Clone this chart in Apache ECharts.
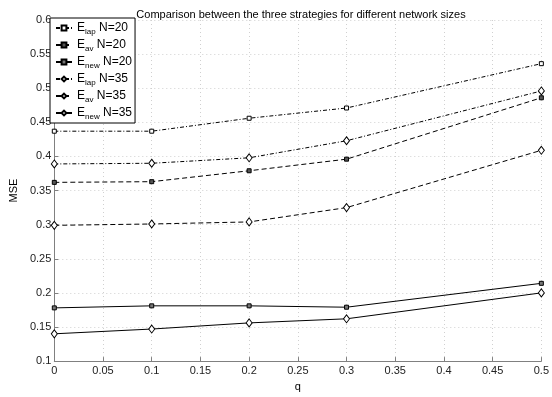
<!DOCTYPE html>
<html>
<head>
<meta charset="utf-8">
<script src="https://cdn.jsdelivr.net/npm/echarts@6/dist/echarts.min.js"></script>
<style>html,body{margin:0;padding:0;background:#fff;}#c{width:552px;height:397px;}</style>
</head>
<body>
<div id="c"></div>
<script>
// Data
const q = [0, 0.1, 0.2, 0.3, 0.5];
const elap20 = [0.437, 0.437, 0.456, 0.471, 0.536];
const eav20  = [0.362, 0.363, 0.379, 0.396, 0.486];
const enew20 = [0.178, 0.181, 0.181, 0.179, 0.214];
const elap35 = [0.389, 0.390, 0.398, 0.423, 0.496];
const eav35  = [0.299, 0.301, 0.304, 0.325, 0.409];
const enew35 = [0.140, 0.147, 0.156, 0.162, 0.200];
const seriesNames = ['Elap N=20', 'Eav N=20', 'Enew N=20', 'Elap N=35', 'Eav N=35', 'Enew N=35'];
const legendSub = ['lap', 'av', 'new', 'lap', 'av', 'new'];
const legendN = ['20', '20', '20', '35', '35', '35'];

const FONT = '"Liberation Sans", Arial, sans-serif';
const dashDot = [4, 2, 1, 2];
const dashed = [5, 3];

function pairs(vals) { return q.map((x, i) => [x, vals[i]]); }

function mk(name, vals, symbol, lineType, fill) {
  const isDiamond = symbol === 'diamond';
  return {
    name: name,
    type: 'line',
    data: pairs(vals),
    symbol: symbol,
    symbolSize: isDiamond ? [6, 8] : 4,
    showSymbol: true,
    animation: false,
    lineStyle: { color: '#000', width: 1, type: lineType },
    itemStyle: { color: fill, borderColor: '#000', borderWidth: 1 },
    emphasis: { disabled: true }
  };
}

const chart = echarts.init(document.getElementById('c'), null, { renderer: 'canvas' });
chart.setOption({
  animation: false,
  backgroundColor: '#fff',
  title: {
    text: 'Comparison between the three strategies for different network sizes',
    left: 296, top: 4, textAlign: 'center',
    textStyle: { fontFamily: FONT, fontSize: 11, fontWeight: 'normal', color: '#000' }
  },
  grid: { left: 47, right: 9, top: 20, bottom: 27, containLabel: false },
  legend: {
    orient: 'vertical', left: 50, top: 18,
    backgroundColor: '#fff', borderColor: '#000', borderWidth: 1,
    padding: [4, 3, 2, 5], itemGap: 3, itemWidth: 16, itemHeight: 6,
    data: seriesNames,
    formatter: function (name) {
      const i = seriesNames.indexOf(name);
      return '{e|E}{s|' + legendSub[i] + '}{e| N=' + legendN[i] + '}';
    },
    textStyle: {
      fontFamily: FONT, color: '#000',
      rich: {
        e: { fontSize: 12, fontFamily: FONT, color: '#000', lineHeight: 16, verticalAlign: 'middle' },
        s: { fontSize: 8, fontFamily: FONT, color: '#000', lineHeight: 16, verticalAlign: 'bottom' }
      }
    }
  },
  xAxis: {
    type: 'value', min: 0, max: 0.5, interval: 0.05,
    name: 'q', nameLocation: 'middle', nameGap: 14,
    nameTextStyle: { fontFamily: FONT, fontSize: 11, color: '#000' },
    axisLine: { lineStyle: { color: '#808080', width: 1 } },
    axisTick: { inside: true, length: 4, lineStyle: { color: '#808080' } },
    axisLabel: { fontFamily: FONT, fontSize: 11, color: '#222', margin: 4 },
    splitLine: { show: true, lineStyle: { color: '#d0d0d0', type: [1, 3], width: 1 } }
  },
  yAxis: {
    type: 'value', min: 0.1, max: 0.6, interval: 0.05,
    name: 'MSE', nameLocation: 'middle', nameGap: 28,
    nameTextStyle: { fontFamily: FONT, fontSize: 11, color: '#000' },
    axisLine: { show: true, lineStyle: { color: '#808080', width: 1 } },
    axisTick: { show: true, inside: true, length: 4, lineStyle: { color: '#808080' } },
    axisLabel: { fontFamily: FONT, fontSize: 11, color: '#222', margin: 3 },
    splitLine: { show: true, lineStyle: { color: '#d0d0d0', type: [1, 3], width: 1 } }
  },
  series: [
    mk(seriesNames[0], elap20, 'rect', dashDot, '#fff'),
    mk(seriesNames[1], eav20, 'rect', dashed, '#555'),
    mk(seriesNames[2], enew20, 'rect', 'solid', '#777'),
    mk(seriesNames[3], elap35, 'diamond', dashDot, '#fff'),
    mk(seriesNames[4], eav35, 'diamond', dashed, '#fff'),
    mk(seriesNames[5], enew35, 'diamond', 'solid', '#fff')
  ]
});
</script>
</body>
</html>
